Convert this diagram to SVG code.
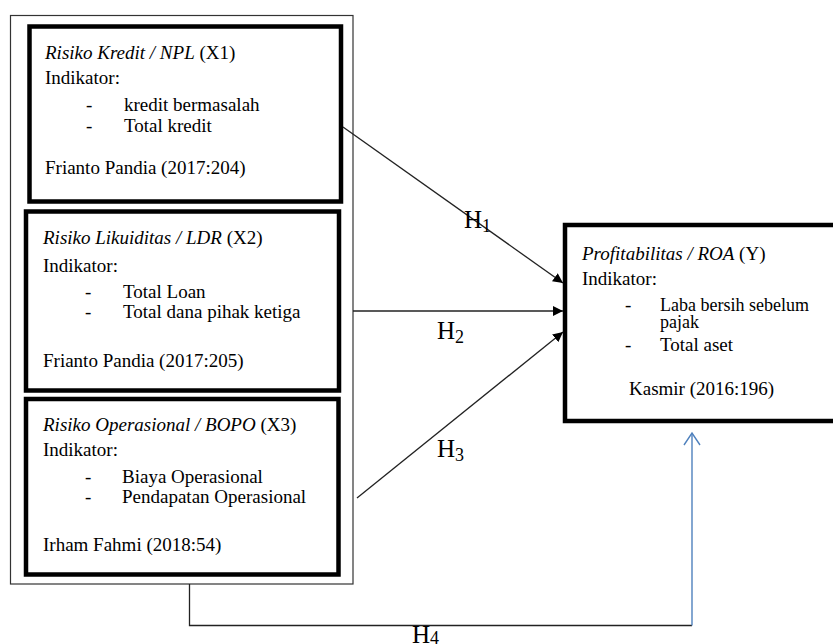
<svg xmlns="http://www.w3.org/2000/svg" width="833" height="644" viewBox="0 0 833 644">
<style>
text{font-family:"Liberation Serif","Times New Roman",serif;font-size:19px;fill:#000}
.it{font-style:italic}
.sm{font-size:18px}
.thick{fill:#fff;stroke:#000;stroke-width:4.5}
.thin{fill:none;stroke:#333;stroke-width:1.2}
.conn{fill:none;stroke:#222;stroke-width:1.3}
.blue{fill:none;stroke:#4f81bd;stroke-width:1.4}
.h{font-size:25px}
.sub{font-size:18px}
</style>
<defs>
<marker id="arr" viewBox="0 0 10 10" refX="10" refY="5" markerWidth="10" markerHeight="10" markerUnits="userSpaceOnUse" orient="auto">
<path d="M0,0 L10,5 L0,10 z" fill="#000"/>
</marker>
</defs>
<rect width="833" height="644" fill="#fff"/>
<g id="outer">
<rect class="thin" x="10.5" y="15.5" width="342.5" height="568.5"/>
</g>
<g id="x1">
<rect class="thick" x="29.5" y="26.5" width="311.5" height="175"/>
<text x="45" y="58.5"><tspan class="it">Risiko Kredit / NPL</tspan> (X1)</text>
<text x="45" y="84">Indikator:</text>
<text x="86" y="111">-</text><text x="124" y="111">kredit bermasalah</text>
<text x="86" y="131.5">-</text><text x="124" y="131.5">Total kredit</text>
<text x="45" y="174">Frianto Pandia (2017:204)</text>
</g>
<g id="x2">
<rect class="thick" x="26" y="211.5" width="313" height="179"/>
<text x="43" y="244"><tspan class="it">Risiko Likuiditas / LDR</tspan> (X2)</text>
<text x="43" y="271.5">Indikator:</text>
<text x="85" y="297.5">-</text><text x="123" y="297.5">Total Loan</text>
<text x="85" y="317.5">-</text><text x="123" y="317.5">Total dana pihak ketiga</text>
<text x="43" y="366.5">Frianto Pandia (2017:205)</text>
</g>
<g id="x3">
<rect class="thick" x="26" y="399" width="312.5" height="175.5"/>
<text x="43" y="430.5"><tspan class="it">Risiko Operasional / BOPO</tspan> (X3)</text>
<text x="43" y="456">Indikator:</text>
<text x="85" y="482.5">-</text><text x="122" y="482.5">Biaya Operasional</text>
<text x="85" y="503">-</text><text x="122" y="503">Pendapatan Operasional</text>
<text x="43" y="550.5">Irham Fahmi (2018:54)</text>
</g>
<g id="y">
<rect class="thick" x="565" y="225" width="290" height="196"/>
<text x="582" y="260"><tspan class="it">Profitabilitas / ROA</tspan> (Y)</text>
<text x="582" y="285">Indikator:</text>
<text x="625" y="310.5">-</text><text class="sm" x="660" y="310.5">Laba bersih sebelum</text>
<text class="sm" x="660" y="328">pajak</text>
<text x="625" y="351">-</text><text x="660" y="351">Total aset</text>
<text x="629" y="395">Kasmir (2016:196)</text>
</g>
<g id="connectors">
<line class="conn" x1="343" y1="127" x2="563" y2="283" marker-end="url(#arr)"/>
<line class="conn" x1="353" y1="311" x2="563" y2="311" marker-end="url(#arr)"/>
<line class="conn" x1="357" y1="498" x2="563" y2="332" marker-end="url(#arr)"/>
<polyline class="conn" points="189.5,584 189.5,625.5 692,625.5"/>
<line class="blue" x1="692" y1="625.5" x2="692" y2="433"/>
<polyline class="blue" points="684,445 692,433 700,445"/>
<text class="h" x="464" y="228">H<tspan class="sub" dy="4">1</tspan></text>
<text class="h" x="437" y="339">H<tspan class="sub" dy="4">2</tspan></text>
<text class="h" x="437" y="457">H<tspan class="sub" dy="4">3</tspan></text>
<text class="h" x="412" y="643">H<tspan class="sub" dy="1">4</tspan></text>
</g>
</svg>
